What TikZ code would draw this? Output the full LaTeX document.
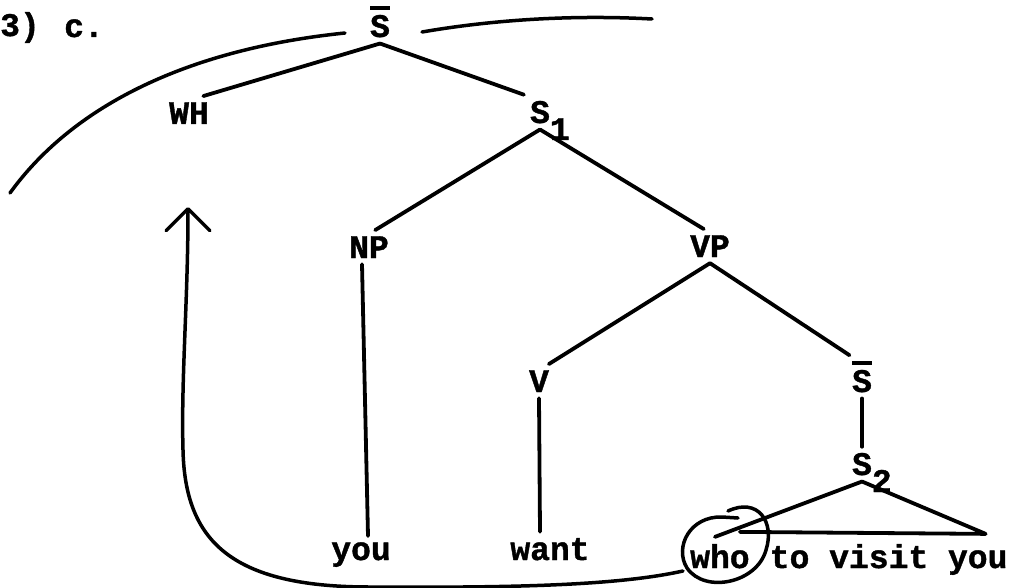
\documentclass[tikz,border=0pt]{standalone}
\usepackage{fontspec}
\usepackage{tikz}
\usetikzlibrary{arrows.meta, calc}
\newfontfamily\typefont{Liberation Mono}[BoldFeatures={FakeBold=1.2}]
% barred category and lowered index, typewriter style
\newcommand{\ovl}[1]{\vbox{\hrule height 3.5pt \kern 5pt \hbox{#1}}}
\newcommand{\lowsub}[1]{\rlap{\smash{\raisebox{-17pt}{#1}}}}

\begin{document}
\begin{tikzpicture}[x=1pt, y=-1pt,
  lbl/.style={font=\typefont\bfseries\fontsize{33}{36}\selectfont,
              inner sep=6pt, anchor=base},
  word/.style={lbl, inner sep=0pt, anchor=base west},
  branch/.style={line width=3.8pt, line cap=round, line join=round},
  hand/.style={line width=3.5pt, line cap=round, line join=round}
]
\useasboundingbox (0,0) rectangle (1014,588);

\node[lbl, anchor=base west, inner sep=0pt] (num) at (0,36) {3)};
\node[lbl] (ex) at (84,37) {c.};

\node[lbl] (top) at (380,37) {\ovl{S}};
\node[lbl] (wh) at (189,124) {WH};
\node[lbl] (s1) at (540,123) {S\lowsub{1}};
\node[lbl] (np) at (369,258) {NP};
\node[lbl] (vp) at (710,257) {VP};
\node[lbl] (v) at (539,392) {V};
\node[lbl] (sbar) at (862,392) {\ovl{S}};
\node[lbl] (s2) at (862,475) {S\lowsub{2}};
\node[lbl] (you) at (361,560) {you};
\node[lbl] (want) at (550,560) {want};
\node[word] (who) at (690,568) {who};
\node[word, xshift=19.8] (rest) at (who.base east) {to visit you};

\draw[branch] (top.south) -- (wh.50);
\draw[branch] (top.south) -- (s1.north west);
\draw[branch] (s1.south) -- (np.70);
\draw[branch] (s1.south) -- (vp.110);
\draw[branch] ($(np.south)+(-7,0)$) -- ($(you.north)+(7,0)$);
\draw[branch] (vp.south) -- (v.60);
\draw[branch] (vp.south) -- (sbar.120);
\draw[branch] (v.south) -- ($(want.north)+(-10,0)$);
\draw[branch] (sbar.south) -- (s2.north);

% triangle over the embedded clause
\coordinate (tl) at ($(who.north)+(-5,-7)$);
\coordinate (tm) at ($(who.north east)+(-10,-12)$);
\coordinate (tr) at ($(rest.north east)+(-22,-10)$);
\draw[branch] (tl) -- (s2.south) -- (tr) -- (tm);

% circled wh-word and its movement
\draw[hand] (728,511) .. controls (758,497) and (775,522) .. (766,550)
  .. controls (757,583) and (705,594) .. (687,568)
  .. controls (674,547) and (690,516) .. (722,517) -- (738,518);
\draw[hand, -{Straight Barb[length=22pt, width=44pt, round]}]
  (683,571) .. controls (620,585) and (520,588) .. (370,587)
  .. controls (230,587) and (185,540) .. (183,450)
  .. controls (181,380) and (188,300) .. (188,207);

% scope of the wh-phrase
\draw[hand] (10,193) .. controls (70,110) and (180,50) .. (345,33);
\draw[hand] (422,32) .. controls (480,22) and (560,14) .. (652,19);
\end{tikzpicture}
\end{document}
